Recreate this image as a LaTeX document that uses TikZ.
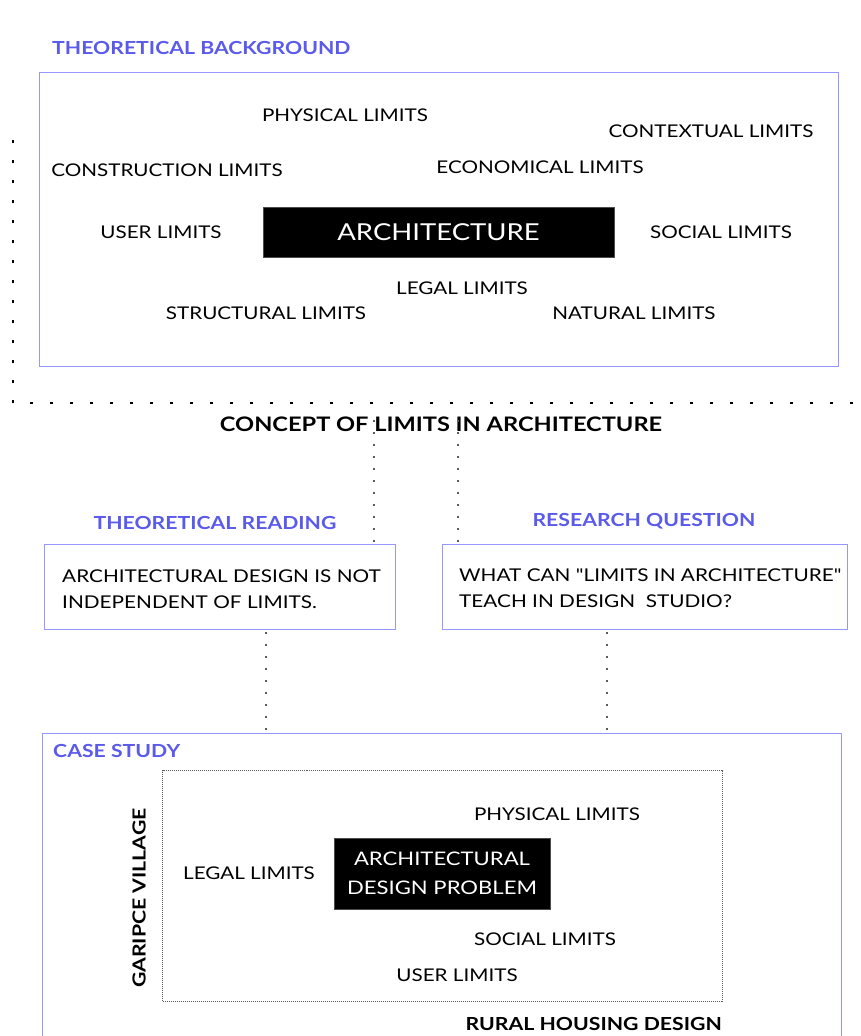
\documentclass[tikz,border=0pt]{standalone}
\usepackage{fontspec}
\setmainfont{Lato}[FakeStretch=1.18, Ligatures=TeXOff]
\usetikzlibrary{positioning}
\definecolor{headblue}{RGB}{90,90,235}
\definecolor{boxblue}{RGB}{150,150,255}
\definecolor{dotgray}{RGB}{90,90,90}
\begin{document}
\begin{tikzpicture}[x=1pt,y=-1pt,
  lbl/.style={inner sep=0pt, font=\fontsize{17.5}{21}\selectfont},
  head/.style={inner sep=0pt, text=headblue, font=\fontsize{18}{21}\selectfont\bfseries},
  blk/.style={inner sep=0pt, font=\fontsize{18}{21}\selectfont\bfseries},
  bluebox/.style={draw=boxblue, line width=1.3pt},
  coreblk/.style={fill=black, draw=black!70, text=white, inner sep=0pt},
  bigdots/.style={line width=2pt, dash pattern=on 3pt off 17pt},
  smalldots/.style={dotgray, line width=1.5pt, dash pattern=on 1.5pt off 10.5pt},
  finedots/.style={dotgray, line width=1pt, dash pattern=on 1pt off 1pt}]
\useasboundingbox (0,0) rectangle (861,1036);

% ---- theoretical background ----
\node[head, anchor=west] (tbh) at (52,48) {THEORETICAL BACKGROUND};
\node[bluebox, minimum width=799pt, minimum height=294pt, anchor=north west, inner sep=0pt] (tb) at (39,72) {};
\node[coreblk, minimum width=351pt, minimum height=50pt, font=\fontsize{23.3}{27}\selectfont] (arch) at (438.5,232) {ARCHITECTURE};
\node[lbl] (phys) at (345,115) {PHYSICAL LIMITS};
\node[lbl] (cont) at (711,131) {CONTEXTUAL LIMITS};
\node[lbl] (constr) at (167,170) {CONSTRUCTION LIMITS};
\node[lbl] (econ) at (540,167) {ECONOMICAL LIMITS};
\node[lbl] (user) at (161,232) {USER LIMITS};
\node[lbl] (soc) at (721,232) {SOCIAL LIMITS};
\node[lbl] (legal) at (462,288) {LEGAL LIMITS};
\node[lbl] (struc) at (266,313) {STRUCTURAL LIMITS};
\node[lbl] (nat) at (634,313) {NATURAL LIMITS};

% ---- frame dots ----
\coordinate (dA) at (13,140);
\coordinate (dB) at (13,403);
\coordinate (dC) at (861,403);
\draw[bigdots] (dA) -- (dB) -- (dC);

% ---- concept ----
\node[blk, font=\fontsize{20}{24}\selectfont\bfseries] (concept) at (441,424) {CONCEPT OF LIMITS IN ARCHITECTURE};

% ---- reading & question ----
\node[head] (trh) at (215,523) {THEORETICAL READING};
\node[head] (rqh) at (644,521) {RESEARCH QUESTION};
\node[bluebox, minimum width=351pt, minimum height=85pt, anchor=north west, inner sep=0pt] (tr) at (44,544) {};
\node[bluebox, minimum width=405pt, minimum height=85pt, anchor=north west, inner sep=0pt] (rq) at (442,544) {};
\node[lbl, anchor=west, align=left, font=\fontsize{17.6}{26}\selectfont] (trt) at (62,589) {ARCHITECTURAL DESIGN IS NOT\\INDEPENDENT OF LIMITS.};
\node[lbl, anchor=west, align=left, font=\fontsize{17.6}{26}\selectfont] (rqt) at (459,588.5) {WHAT CAN "LIMITS IN ARCHITECTURE"\\TEACH IN DESIGN\ \ STUDIO?};

\coordinate (c1) at (374,420);
\coordinate (c2) at (458,420);
\draw[smalldots] (c1) -- (c1 |- tr.north);
\draw[smalldots] (c2) -- (c2 |- rq.north);

% ---- case study ----
\node[bluebox, minimum width=799pt, minimum height=320pt, anchor=north west, inner sep=0pt] (cs) at (42,733) {};
\draw[smalldots] (266,632) coordinate (t1) -- (t1 |- cs.north);
\draw[smalldots] (607,632) coordinate (t2) -- (t2 |- cs.north);
\node[head, anchor=west] (csh) at (53,751) {CASE STUDY};
\node[finedots, draw, minimum width=560pt, minimum height=231pt, anchor=north west, inner sep=0pt] (inner) at (162,770) {};
\node[blk, rotate=90] (gar) at (139,898) {GARIPCE VILLAGE};
\node[coreblk, minimum width=216pt, minimum height=71pt, align=center, font=\fontsize{18.7}{29}\selectfont] (adp) at (442,873.5) {ARCHITECTURAL\\DESIGN PROBLEM};
\node[lbl] (phys2) at (557,814) {PHYSICAL LIMITS};
\node[lbl] (legal2) at (249,873) {LEGAL LIMITS};
\node[lbl] (soc2) at (545,939) {SOCIAL LIMITS};
\node[lbl] (user2) at (457,975) {USER LIMITS};
\node[blk, anchor=east] (rural) at (722,1024) {RURAL HOUSING DESIGN};
\end{tikzpicture}
\end{document}
